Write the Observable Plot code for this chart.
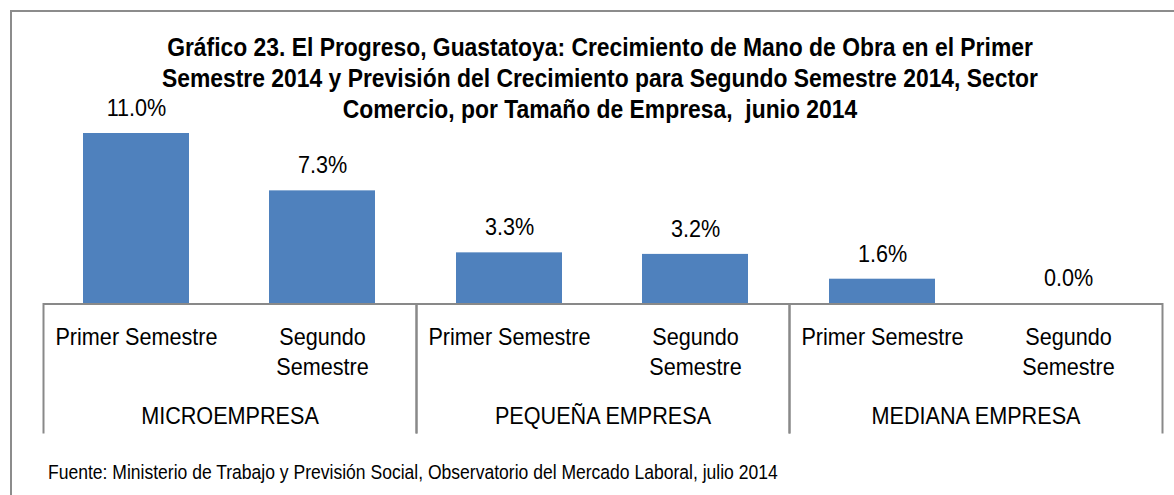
<!DOCTYPE html>
<html>
<head>
<meta charset="utf-8">
<script src="https://cdn.jsdelivr.net/npm/d3@7"></script>
<script src="https://cdn.jsdelivr.net/npm/@observablehq/plot@0.6"></script>
<style>
  html, body { margin: 0; padding: 0; background: #fff; }
  #wrap { position: relative; width: 1174px; height: 495px; overflow: hidden;
          font-family: "Liberation Sans", Arial, sans-serif; color: #000; }
  #box { position: absolute; left: 10px; top: 10px; width: 1300px; height: 600px;
         border-left: 2px solid #8c8c8c; border-top: 2px solid #8c8c8c; }
  #chart { position: absolute; left: 0; top: 0; }
  #title { position: absolute; left: 100px; width: 1000px; top: 32px; text-align: center;
           font-weight: bold; font-size: 25px; line-height: 31px; white-space: pre;
           transform: scaleX(0.915); transform-origin: 50% 0; }
  #footer { position: absolute; left: 48px; top: 459px; font-size: 20.5px; line-height: 26px; white-space: pre;
            transform: scaleX(0.855); transform-origin: 0 0; }
</style>
</head>
<body>
<div id="wrap">
  <div id="box"></div>
  <div id="chart"></div>
  <div id="title"></div>
  <div id="footer"></div>
</div>
<script>
const titleLines = [
  "Gráfico 23. El Progreso, Guastatoya: Crecimiento de Mano de Obra en el Primer",
  "Semestre 2014 y Previsión del Crecimiento para Segundo Semestre 2014, Sector",
  "Comercio, por Tamaño de Empresa,  junio 2014"
];
const footerText = "Fuente: Ministerio de Trabajo y Previsión Social, Observatorio del Mercado Laboral, julio 2014";

const groups = ["MICROEMPRESA", "PEQUEÑA EMPRESA", "MEDIANA EMPRESA"];
const semesters = ["Primer Semestre", "Segundo Semestre"];
const primerValues = [11.0, 3.3, 1.6];
const segundoValues = [7.3, 3.2, 0.0];

const seriesValues = [primerValues, segundoValues];
const data = groups.flatMap((g, i) => semesters.map((s, j) => ({group: g, semester: s, value: seriesValues[j][i]})));
const fmt = d3.format(".1%");

const font = '"Liberation Sans", Arial, sans-serif';
const gray = "#898989";

const chart = Plot.plot({
  width: 1174,
  height: 495,
  marginTop: 303.5,
  marginBottom: 63,
  marginLeft: 43,
  marginRight: 12,
  style: {fontFamily: font, fontSize: "23px", color: "#000", background: "transparent", overflow: "visible"},
  fx: {domain: groups, padding: 0, axis: null},
  x: {domain: semesters, paddingInner: 0.43, paddingOuter: 0.215, axis: null},
  y: {domain: [0, 11], range: [303.5, 133], axis: null},
  marks: [
    Plot.barY(data, {fx: "group", x: "semester", y: "value", fill: "#4f81bd"}),
    Plot.text(data, {fx: "group", x: "semester", y: "value", text: d => fmt(d.value / 100),
      dy: -25, lineAnchor: "middle", fontSize: 23, fill: "#000"}),
    Plot.text(data, {fx: "group", x: "semester", frameAnchor: "top", text: "semester",
      lineWidth: 8.2, lineHeight: 30 / 23, lineAnchor: "top", dy: 20, fontSize: 23, fill: "#000"}),
    Plot.text(groups, {fx: d => d, frameAnchor: "top", text: d => d,
      lineAnchor: "top", dy: 104, fontSize: 23, fill: "#000"}),
    Plot.frame({anchor: "left", stroke: gray, strokeWidth: 2}),
    Plot.frame({anchor: "right", stroke: gray, strokeWidth: 2}),
    Plot.ruleY([0], {stroke: gray, strokeWidth: 2})
  ]
});
// condense the chart's text horizontally around each label's own anchor
chart.querySelectorAll("text").forEach(el => {
  const tr = el.getAttribute("transform");
  if (tr) el.setAttribute("transform", tr + " scale(0.94,1)");
});
document.getElementById("chart").appendChild(chart);

const t = document.getElementById("title");
titleLines.forEach(line => {
  const div = document.createElement("div");
  div.textContent = line;
  t.appendChild(div);
});
document.getElementById("footer").textContent = footerText;
</script>
</body>
</html>
